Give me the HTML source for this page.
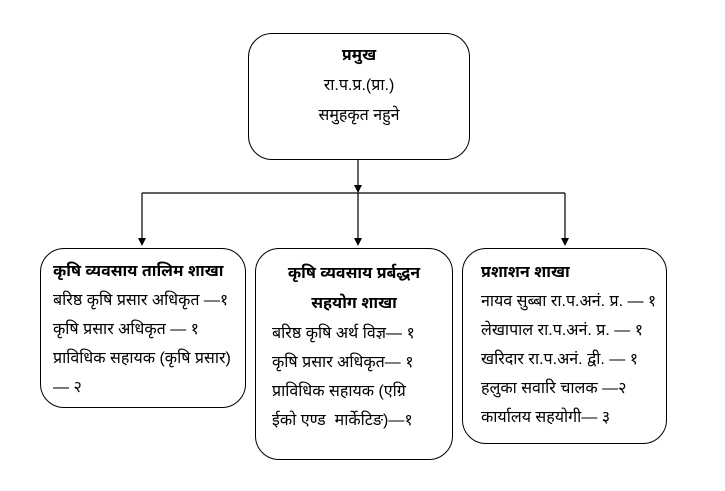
<!DOCTYPE html>
<html><head><meta charset="utf-8"><style>
body{margin:0;width:725px;height:491px;background:#fff;position:relative;overflow:hidden;font-family:"Liberation Sans","Noto Sans Devanagari","Lohit Devanagari",sans-serif;color:#000;}
.b{position:absolute;border:1.3px solid #000;border-radius:24px;box-sizing:border-box;}
.t{position:absolute;font-size:16px;line-height:29px;white-space:nowrap;}
.c{text-align:center;}
b{font-weight:bold;}
</style></head><body>
<svg width="725" height="491" style="position:absolute;left:0;top:0">
<g stroke="#000" stroke-width="1.2" fill="none">
<line x1="358" y1="160" x2="358" y2="186"/>
<line x1="142" y1="193" x2="565" y2="193"/>
<line x1="358" y1="193" x2="358" y2="238"/>
<line x1="142" y1="193" x2="142" y2="238"/>
<line x1="565" y1="193" x2="565" y2="238"/>
</g>
<g fill="#000">
<polygon points="354,185 362,185 358,193"/>
<polygon points="138,238 146,238 142,246"/>
<polygon points="354,238 362,238 358,246"/>
<polygon points="561,238 569,238 565,246"/>
</g>
</svg>
<div class="b" style="left:248px;top:33px;width:222px;height:127px"></div>
<div class="t c" style="left:248px;top:41px;width:222px;line-height:30px"><b>प्रमुख</b><br>रा.प.प्र.(प्रा.)<br>समुहकृत नहुने</div>

<div class="b" style="left:40px;top:248px;width:206px;height:160px"></div>
<div class="t" style="left:53px;top:257px"><b>कृषि व्यवसाय तालिम शाखा</b><br>बरिष्ठ कृषि प्रसार अधिकृत —१<br>कृषि प्रसार अधिकृत — १<br>प्राविधिक सहायक (कृषि प्रसार)<br>— २</div>

<div class="b" style="left:255px;top:248px;width:198px;height:212px"></div>
<div class="t c" style="left:255px;top:259px;width:198px;line-height:30px"><b>कृषि व्यवसाय प्रर्बद्धन<br>सहयोग शाखा</b></div>
<div class="t" style="left:272px;top:319px">बरिष्ठ कृषि अर्थ विज्ञ— १<br>कृषि प्रसार अधिकृत— १<br>प्राविधिक सहायक (एग्रि<br>ईको एण्ड &nbsp;मार्केटिङ)—१</div>

<div class="b" style="left:462px;top:248px;width:205px;height:196px"></div>
<div class="t" style="left:481px;top:258px"><b>प्रशाशन शाखा</b><br>नायव सुब्बा रा.प.अनं. प्र. — १<br>लेखापाल रा.प.अनं. प्र. — १<br>खरिदार रा.प.अनं. द्वी. — १<br>हलुका सवारि चालक —२<br>कार्यालय सहयोगी— ३</div>
</body></html>
